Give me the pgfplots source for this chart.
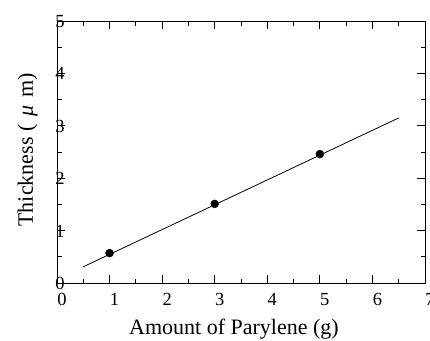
\documentclass[border=0pt]{standalone}
\usepackage{pgfplots}
\pgfplotsset{compat=1.18}
\usepackage{fontspec}
\setmainfont{Liberation Serif}
\begin{document}
\begin{tikzpicture}
\useasboundingbox (-57pt,-57pt) rectangle (373pt,283pt);
\begin{axis}[
  scale only axis,
  width=368pt, height=262pt,
  xmin=0, xmax=7, ymin=0, ymax=5,
  xtick={0,1,...,7}, ytick={0,1,...,5},
  minor x tick num=1, minor y tick num=1,
  tick align=inside,
  major tick length=8pt, minor tick length=4.5pt,
  tick style={black, line width=0.8pt},
  axis line style={black, line width=0.9pt},
  /pgf/number format/assume math mode=true,
  tick label style={font=\fontsize{18.5}{18.5}\selectfont},
  xticklabel style={anchor=base, xshift=5pt, yshift=-22pt},
  yticklabel style={anchor=base, xshift=3pt, yshift=-6.5pt},
  label style={font=\fontsize{22}{22}\selectfont},
  xlabel={Amount of Parylene (g)},
  ylabel={Thickness (\hspace{0.35em}\textit{μ}\hspace{0.35em}m)},
  xlabel style={at={(axis description cs:0.5,0)}, anchor=base, xshift=-7pt, yshift=-51pt},
  ylabel style={at={(axis description cs:0,0.5)}, anchor=base, yshift=24pt, xshift=2pt},
]
\addplot[black, line width=0.8pt, no marks] coordinates {(0.5,0.31) (6.5,3.15)};
\addplot[only marks, mark=*, mark size=4pt, black] coordinates {(1,0.57) (3,1.51) (5,2.46)};
\end{axis}
\end{tikzpicture}
\end{document}
